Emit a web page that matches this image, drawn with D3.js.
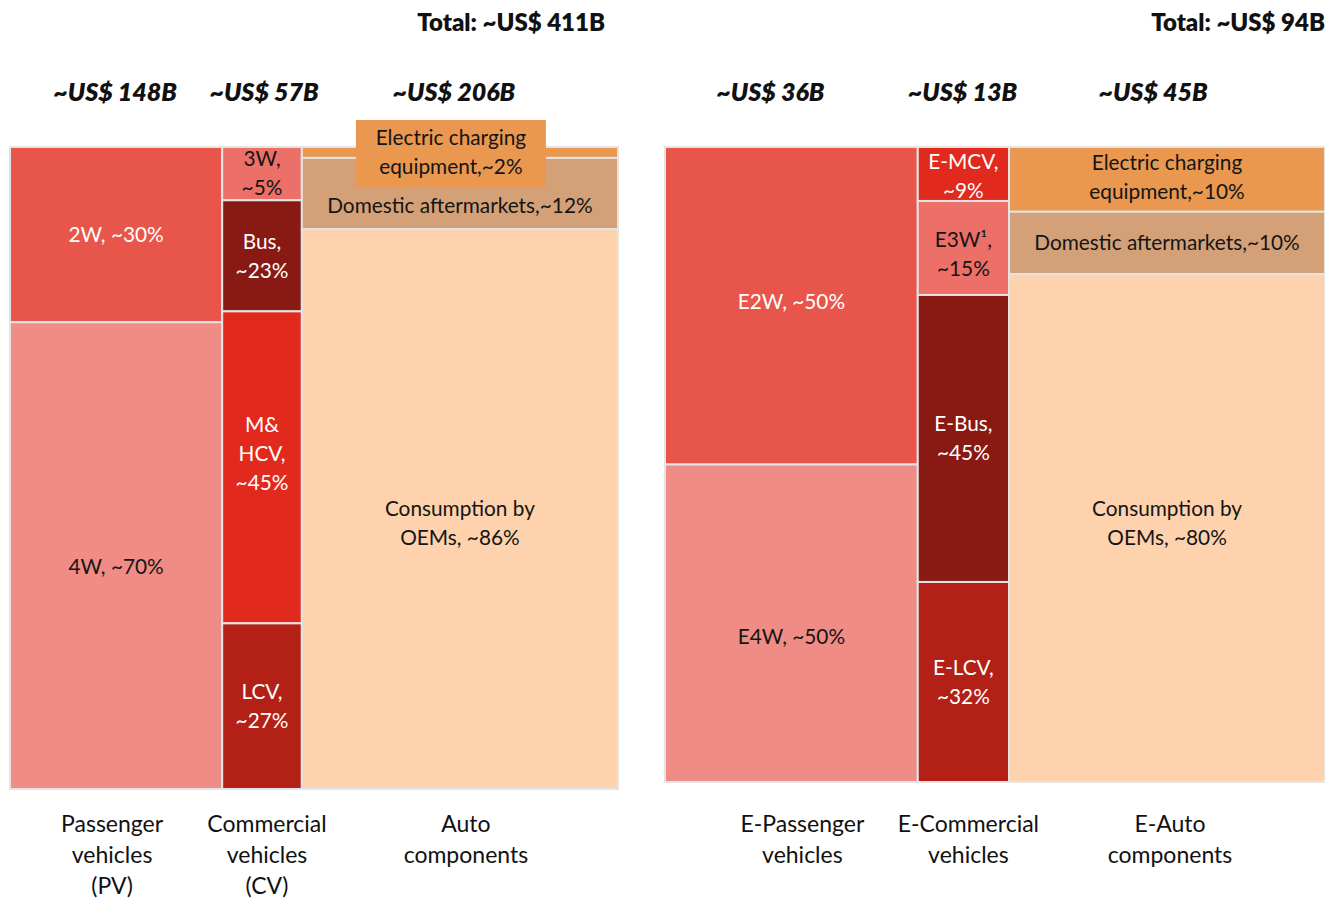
<!DOCTYPE html>
<html><head><meta charset="utf-8">
<script src="https://cdn.jsdelivr.net/npm/d3@7"></script>
<style>body{margin:0;background:#fff}svg{display:block}</style>
</head><body>
<svg id="c" width="1325" height="899"></svg>
<script>
// ---------------- DATA ----------------
const leftTotal = "Total: ~US$ 411B";
const leftCategories = [["Passenger","vehicles","(PV)"],["Commercial","vehicles","(CV)"],["Auto","components"]];
const leftMarkets = ["~US$ 148B","~US$ 57B","~US$ 206B"];
const leftColumnShares = [34.9, 13.1, 52.0];      // drawn column widths (% of panel)

const pvSegments = ["2W","4W"];
const pvShares = [27.3, 72.7];
const pvLabels = [["2W, ~30%"],["4W, ~70%"]];

const cvSegments = ["3W","Bus","M&HCV","LCV"];
const cvShares = [8.3, 17.3, 48.6, 25.8];
const cvLabels = [["3W,","~5%"],["Bus,","~23%"],["M&","HCV,","~45%"],["LCV,","~27%"]];

const acSegments = ["Charging","Aftermarket","OEM"];
const acShares = [1.7, 11.1, 87.2];
const acLabels = [["Electric charging","equipment,~2%"],["Domestic aftermarkets,~12%"],["Consumption by","OEMs, ~86%"]];

const rightTotal = "Total: ~US$ 94B";
const rightCategories = [["E-Passenger","vehicles"],["E-Commercial","vehicles"],["E-Auto","components"]];
const rightMarkets = ["~US$ 36B","~US$ 13B","~US$ 45B"];
const rightColumnShares = [36, 13, 45];

const epvSegments = ["E2W","E4W"];
const epvShares = [50, 50];
const epvLabels = [["E2W, ~50%"],["E4W, ~50%"]];

const ecvSegments = ["E-MCV","E3W","E-Bus","E-LCV"];
const ecvShares = [8.5, 14.8, 45.2, 31.5];
const ecvLabels = [["E-MCV,","~9%"],["E3W\u00B9,","~15%"],["E-Bus,","~45%"],["E-LCV,","~32%"]];

const eacSegments = ["E-Charging","E-Aftermarket","E-OEM"];
const eacShares = [10.2, 9.8, 80];
const eacLabels = [["Electric charging","equipment,~10%"],["Domestic aftermarkets,~10%"],["Consumption by","OEMs, ~80%"]];

// ---------------- STYLE ----------------
const fill = {
  "2W":"#E8564B","4W":"#EF8C85","3W":"#EC6F68","Bus":"#881913","M&HCV":"#E2291E","LCV":"#B22016",
  "Charging":"#EA974F","Aftermarket":"#D4A077","OEM":"#FDD2AD",
  "E2W":"#E8564B","E4W":"#EF8C85","E-MCV":"#E2291E","E3W":"#EC6F68","E-Bus":"#881913","E-LCV":"#B22016",
  "E-Charging":"#EA974F","E-Aftermarket":"#D4A077","E-OEM":"#FDD2AD"
};
const darkText = new Set(["4W","3W","Charging","Aftermarket","OEM","E4W","E3W","E-Charging","E-Aftermarket","E-OEM"]);
const labelDy = {"4W":11,"M&HCV":-14,"OEM":14,"Aftermarket":12,"E2W":-4,"E4W":13,"E3W":6,"E-OEM":-5,"E-Charging":-2,"E-MCV":2};
const FONT = "Lato, 'Open Sans', sans-serif";

const svg = d3.select("#c");

const panels = [
  {x0:10, x1:618, y0:147, y1:789, totalText:leftTotal, totalX:605,
   cats:leftCategories, markets:leftMarkets, colShares:leftColumnShares,
   headerDx:[-1,2,-6], catDx:[-4,5,6],
   cols:[[pvSegments,pvShares,pvLabels],[cvSegments,cvShares,cvLabels],[acSegments,acShares,acLabels]]},
  {x0:665, x1:1325, y0:147, y1:782, totalText:rightTotal, totalX:1325,
   cats:rightCategories, markets:rightMarkets, colShares:rightColumnShares,
   headerDx:[-21,-1,-14], catDx:[11,5,3],
   cols:[[epvSegments,epvShares,epvLabels],[ecvSegments,ecvShares,ecvLabels],[eacSegments,eacShares,eacLabels]]}
];

panels.forEach(p => {
  const g = svg.append("g");
  const cum = d3.cumsum([0, ...p.colShares]);
  const x = d3.scaleLinear().domain([0, d3.sum(p.colShares)]).range([p.x0, p.x1]);

  g.append("text").attr("x", p.totalX).attr("y", 31).attr("text-anchor","end")
    .attr("font-family", FONT).attr("font-weight", 800).attr("font-size", 24).attr("fill","#111")
    .text(p.totalText);

  p.cols.forEach((col, ci) => {
    const [segs, shares, labels] = col;
    const cx0 = x(cum[ci]), cx1 = x(cum[ci+1]), cxm = (cx0+cx1)/2;
    const y = d3.scaleLinear().domain([0, d3.sum(shares)]).range([p.y0, p.y1]);
    const ycum = d3.cumsum([0, ...shares]);

    // header
    g.append("text").attr("x", cxm + p.headerDx[ci]).attr("y", 101).attr("text-anchor","middle")
      .attr("font-family", FONT).attr("font-weight", 800).attr("font-style","italic")
      .attr("font-size", 25).attr("fill","#111").text(p.markets[ci]);

    // category label
    const ct = g.append("text").attr("text-anchor","middle").attr("font-family", FONT)
      .attr("font-size", 23).attr("fill","#111");
    p.cats[ci].forEach((line, li) => {
      ct.append("tspan").attr("x", cxm + p.catDx[ci]).attr("y", 832 + li*31).text(line);
    });

    segs.forEach((s, si) => {
      const sy0 = y(ycum[si]), sy1 = y(ycum[si+1]);
      g.append("rect").attr("x", cx0).attr("y", sy0).attr("width", cx1-cx0).attr("height", sy1-sy0)
        .attr("fill", fill[s]).attr("stroke","#e4e4e4").attr("stroke-width", 2);
    });
  });

  // labels on top of rects
  p.cols.forEach((col, ci) => {
    const [segs, shares, labels] = col;
    const cx0 = x(cum[ci]), cx1 = x(cum[ci+1]), cxm = (cx0+cx1)/2;
    const y = d3.scaleLinear().domain([0, d3.sum(shares)]).range([p.y0, p.y1]);
    const ycum = d3.cumsum([0, ...shares]);
    segs.forEach((s, si) => {
      const sy0 = y(ycum[si]), sy1 = y(ycum[si+1]);
      const lines = labels[si];
      const lh = 29;
      let cy = (sy0+sy1)/2 + (labelDy[s]||0);
      let lx = cxm;
      const callout = (sy1 - sy0) < lines.length*lh*0.6;
      if (callout) {
        // label floated in a box above the thin band
        lx = cxm - 9; cy = 152;
        const bw = 190, bh = 67;
        g.append("rect").attr("x", lx - bw/2).attr("y", 120).attr("width", bw).attr("height", bh)
          .attr("fill", fill[s]);
      }
      const t = g.append("text").attr("text-anchor","middle").attr("font-family", FONT)
        .attr("font-size", 20.8).attr("fill", darkText.has(s) ? "#151515" : "#ffffff");
      lines.forEach((line, li) => {
        t.append("tspan").attr("x", lx).attr("y", cy + (li - (lines.length-1)/2)*lh)
          .attr("dy","0.35em").text(line);
      });
    });
  });
});
</script>
</body></html>
